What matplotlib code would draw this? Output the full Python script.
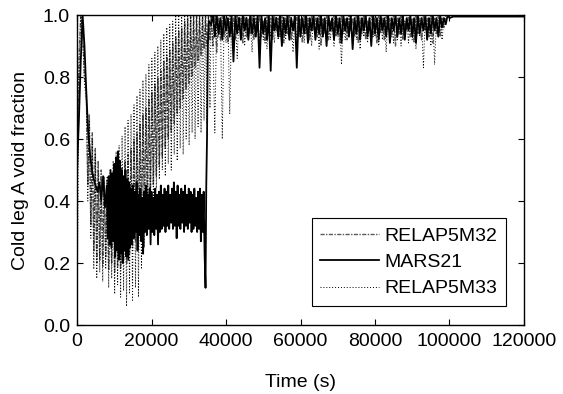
import numpy as np
import matplotlib
matplotlib.use('Agg')
import matplotlib.pyplot as plt

plt.rcParams['font.family'] = ['Liberation Sans', 'DejaVu Sans']

# ---- MARS21 (solid black) ----
mars_seg1 = [0.50, 0.66, 0.85, 1.00, 0.90, 0.75, 0.62, 0.55, 0.50, 0.47, 0.45, 0.43, 0.46, 0.40, 0.48, 0.38]
mars_seg2 = [0.45, 0.28, 0.48, 0.26, 0.50, 0.25, 0.49, 0.27, 0.52, 0.22, 0.54, 0.24, 0.56, 0.21,
             0.53, 0.23, 0.50, 0.20, 0.48, 0.24, 0.50, 0.22, 0.47, 0.21, 0.46, 0.25, 0.44, 0.26]
mars_seg3 = [0.45, 0.28, 0.43, 0.30, 0.46, 0.24, 0.42, 0.29, 0.44, 0.27, 0.41, 0.23, 0.43, 0.30,
             0.45, 0.29, 0.42, 0.31, 0.44, 0.26, 0.43, 0.30, 0.41, 0.29, 0.44, 0.31, 0.42, 0.26,
             0.43, 0.30, 0.45, 0.31, 0.42, 0.32, 0.44, 0.30, 0.43, 0.32, 0.45, 0.31, 0.42, 0.33,
             0.44, 0.31, 0.46, 0.32, 0.43, 0.28, 0.45, 0.32, 0.42, 0.31, 0.44, 0.33, 0.43, 0.30,
             0.45, 0.32, 0.42, 0.31, 0.44, 0.33, 0.43, 0.30, 0.42, 0.31, 0.44, 0.32, 0.41, 0.30,
             0.43, 0.31, 0.44, 0.27, 0.42, 0.30, 0.43, 0.23]
mars_jump_t = [34500, 34700, 34900, 35100, 35400]
mars_jump_v = [0.12, 0.45, 0.60, 0.90, 0.98]
mars_seg4 = [0.97, 1.00, 0.93, 1.00, 0.94, 0.99, 0.92, 1.00, 0.95, 0.99,
             0.93, 1.00, 0.85, 1.00, 0.94, 0.99, 0.92, 1.00, 0.95, 0.99,
             0.92, 1.00, 0.94, 0.99, 0.93, 1.00, 0.83, 1.00, 0.94, 0.99,
             0.92, 1.00, 0.82, 1.00, 0.95, 0.99, 0.93, 1.00, 0.90, 0.99,
             0.94, 1.00, 0.92, 0.99, 0.95, 1.00, 0.83, 1.00, 0.93, 0.99,
             0.94, 1.00, 0.91, 0.99, 0.95, 1.00, 0.92, 0.99, 0.94, 1.00,
             0.93, 0.99, 0.90, 1.00, 0.95, 0.99, 0.92, 1.00, 0.94, 0.99,
             0.91, 1.00, 0.95, 0.99, 0.93, 1.00, 0.89, 0.99, 0.94, 1.00,
             0.92, 0.99, 0.95, 1.00, 0.93, 0.99, 0.90, 1.00, 0.94, 0.99,
             0.92, 1.00, 0.95, 0.99, 0.93, 1.00, 0.91, 0.99, 0.95, 1.00,
             0.93, 0.99, 0.94, 1.00, 0.92, 0.99, 0.95, 1.00, 0.93, 0.99,
             0.91, 1.00, 0.94, 0.99, 0.95, 1.00, 0.92, 0.99, 0.94, 1.00,
             0.95, 0.99, 0.93, 1.00, 0.96, 0.99, 0.97, 1.00, 0.99]
mars_tail_t = [101000, 120000]
mars_tail_v = [0.995, 0.995]

# ---- RELAP5M32 (grey dash-dot) ----
r32_seg1 = [0.45, 0.85, 1.00, 0.95, 0.80]
r32_seg2 = [0.75, 0.45, 0.68, 0.32, 0.62, 0.24, 0.57, 0.20, 0.53, 0.21, 0.50, 0.19, 0.48, 0.22,
            0.47, 0.18, 0.47, 0.20, 0.48, 0.17, 0.49, 0.19, 0.50, 0.18, 0.51, 0.21, 0.53, 0.20,
            0.55, 0.23, 0.57, 0.25, 0.60, 0.27, 0.62, 0.30, 0.65, 0.33, 0.68, 0.36, 0.70, 0.39,
            0.73, 0.42, 0.75, 0.45, 0.78, 0.48, 0.80, 0.51, 0.82, 0.54, 0.85, 0.57, 0.87, 0.60,
            0.89, 0.62, 0.91, 0.65, 0.93, 0.68, 0.95, 0.70, 0.96, 0.73, 0.98, 0.76, 0.99, 0.78,
            1.00, 0.80, 1.00, 0.83, 1.00, 0.85, 1.00, 0.87, 1.00, 0.89, 1.00, 0.90, 1.00, 0.92]
r32_seg3 = [1.00, 0.90, 1.00, 0.88, 0.99, 0.92, 1.00, 0.93, 0.99, 0.91,
            1.00, 0.94, 0.99, 0.92, 1.00, 0.95, 0.99, 0.91, 1.00, 0.93,
            0.99, 0.94, 1.00, 0.92, 0.99, 0.95, 1.00, 0.93, 0.98, 0.91,
            1.00, 0.94, 0.99, 0.92, 1.00, 0.95, 0.99, 0.93, 1.00, 0.91,
            0.99, 0.94, 1.00, 0.92, 0.98, 0.95, 1.00, 0.93, 0.99, 0.91,
            1.00, 0.94, 0.99, 0.92, 1.00, 0.95, 0.99, 0.93, 1.00, 0.90,
            0.99, 0.94, 1.00, 0.92, 0.98, 0.95, 1.00, 0.93, 0.99, 0.91,
            1.00, 0.94, 0.99, 0.92, 1.00, 0.95, 0.99, 0.93, 1.00, 0.91,
            0.99, 0.94, 1.00, 0.92, 0.98, 0.95, 1.00, 0.93, 0.99, 0.91,
            1.00, 0.94, 0.99, 0.92, 1.00, 0.95, 0.99, 0.93, 1.00, 0.90,
            0.99, 0.94, 1.00, 0.92, 0.98, 0.95, 1.00, 0.93, 0.99, 0.91,
            1.00, 0.94, 0.99, 0.92, 1.00, 0.95, 0.99, 0.93, 1.00, 0.91,
            0.99, 0.94, 1.00, 0.93, 0.99, 0.96, 1.00]

# ---- RELAP5M33 (black dotted) ----
r33_seg1 = [0.00, 0.75, 1.00, 0.93, 0.78]
r33_seg2 = [0.72, 0.40, 0.66, 0.28, 0.60, 0.18, 0.55, 0.15, 0.50, 0.17, 0.47, 0.14, 0.46, 0.18,
            0.48, 0.12, 0.50, 0.15, 0.53, 0.10, 0.56, 0.13, 0.58, 0.09, 0.61, 0.11, 0.64, 0.06,
            0.66, 0.10, 0.68, 0.08, 0.71, 0.12, 0.74, 0.09, 0.76, 0.18, 0.79, 0.25, 0.81, 0.30,
            0.84, 0.36, 0.86, 0.40, 0.88, 0.44, 0.90, 0.47, 0.92, 0.50, 0.94, 0.48, 0.96, 0.52,
            0.97, 0.50, 0.98, 0.55, 1.00, 0.53, 1.00, 0.57, 1.00, 0.55, 1.00, 0.60, 1.00, 0.58,
            1.00, 0.62, 1.00, 0.60, 1.00, 0.64, 1.00, 0.62, 1.00, 0.66, 1.00, 0.65, 1.00, 0.70]
r33_seg3 = [1.00, 0.90, 0.62, 1.00, 0.93, 0.99, 0.60, 1.00, 0.91, 0.99,
            0.68, 1.00, 0.92, 0.99, 0.86, 1.00, 0.93, 0.99, 0.90, 1.00,
            0.92, 0.99, 0.88, 1.00, 0.93, 0.99, 0.91, 1.00, 0.92, 0.99,
            0.89, 1.00, 0.93, 0.99, 0.91, 1.00, 0.92, 0.98, 0.90, 1.00,
            0.92, 0.99, 0.93, 1.00, 0.88, 0.99, 0.92, 1.00, 0.93, 0.99,
            0.91, 1.00, 0.93, 0.98, 0.90, 1.00, 0.92, 0.99, 0.89, 1.00,
            0.93, 0.99, 0.91, 1.00, 0.92, 0.98, 0.90, 1.00, 0.93, 0.99,
            0.84, 1.00, 0.92, 0.99, 0.93, 1.00, 0.90, 0.99, 0.92, 1.00,
            0.89, 0.99, 0.93, 1.00, 0.91, 0.98, 0.92, 1.00, 0.93, 0.99,
            0.90, 1.00, 0.92, 0.99, 0.88, 1.00, 0.93, 0.99, 0.91, 1.00,
            0.92, 0.98, 0.90, 1.00, 0.93, 0.99, 0.91, 1.00, 0.92, 0.99,
            0.89, 1.00, 0.93, 0.99, 0.83, 1.00, 0.92, 0.99, 0.90, 1.00,
            0.84, 0.99, 0.93, 1.00, 0.92, 0.99, 1.00]


def seg_times(start, step, vals):
    return start + step * np.arange(len(vals))


mars_t = np.concatenate([seg_times(0, 500, mars_seg1), seg_times(8000, 250, mars_seg2),
                         seg_times(15000, 250, mars_seg3), mars_jump_t,
                         seg_times(36000, 500, mars_seg4), mars_tail_t])
mars_v = np.concatenate([mars_seg1, mars_seg2, mars_seg3, mars_jump_v, mars_seg4, mars_tail_v])

r32_t = np.concatenate([seg_times(0, 500, r32_seg1), seg_times(2500, 400, r32_seg2),
                        seg_times(36000, 500, r32_seg3)])
r32_v = np.concatenate([r32_seg1, r32_seg2, r32_seg3])

r33_t = np.concatenate([seg_times(0, 500, r33_seg1), seg_times(2500, 400, r33_seg2),
                        seg_times(36000, 500, r33_seg3)])
r33_v = np.concatenate([r33_seg1, r33_seg2, r33_seg3])

fig = plt.figure(figsize=(5.63, 3.94), dpi=100)
ax = fig.add_axes([0.1368, 0.1751, 0.7939, 0.7868])

ax.plot(r32_t, r32_v, color='#5a5a5a', lw=1.0, linestyle=(0, (3, 1, 1, 1)),
        label='RELAP5M32', zorder=2)
ax.plot(mars_t, mars_v, color='black', lw=1.3, linestyle='-', label='MARS21', zorder=4)
ax.plot(r33_t, r33_v, color='black', lw=0.7, linestyle=(0, (1, 2)),
        label='RELAP5M33', zorder=3)

ax.set_xlim(0, 120000)
ax.set_ylim(0.0, 1.0)
ax.set_xticks([0, 20000, 40000, 60000, 80000, 100000, 120000])
ax.set_yticks([0.0, 0.2, 0.4, 0.6, 0.8, 1.0])
ax.set_yticklabels(['0.0', '0.2', '0.4', '0.6', '0.8', '1.0'])
ax.tick_params(direction='in', top=True, right=True, labelsize=14, length=4, width=0.8)
ax.tick_params(axis='x', pad=6)
ax.tick_params(axis='y', pad=5)
for s in ax.spines.values():
    s.set_linewidth(1.0)

ax.set_xlabel('Time (s)', fontsize=14, labelpad=17)
ax.set_ylabel('Cold leg A void fraction', fontsize=14, labelpad=10)

leg = ax.legend(loc='lower right', bbox_to_anchor=(0.96, 0.061), borderaxespad=0,
                fontsize=14, frameon=True, fancybox=False, edgecolor='black',
                framealpha=1, handlelength=3.0, handletextpad=0.3,
                labelspacing=0.45, borderpad=0.45)
leg.get_frame().set_linewidth(0.8)

fig.savefig('out.png', dpi=100)
